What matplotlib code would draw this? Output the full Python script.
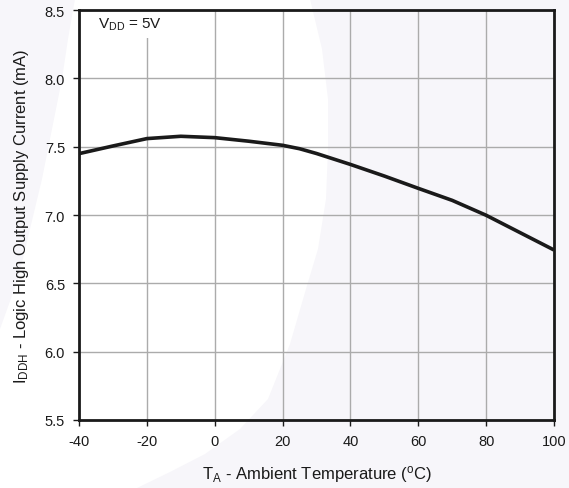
import matplotlib
matplotlib.use("Agg")
import matplotlib.pyplot as plt
from matplotlib.patches import Polygon
import numpy as np

# Data
temp_c = [-40, -30, -20, -10, 0, 10, 20, 25, 30, 40, 50, 60, 70, 80, 90, 100]
iddh_ma = [7.449, 7.505, 7.559, 7.576, 7.566, 7.54, 7.51, 7.485, 7.45, 7.37,
           7.285, 7.195, 7.107, 6.998, 6.871, 6.744]
x_ticks = [-40, -20, 0, 20, 40, 60, 80, 100]
y_ticks = [5.5, 6.0, 6.5, 7.0, 7.5, 8.0, 8.5]

plt.rcParams['font.family'] = ['Liberation Sans', 'DejaVu Sans']
plt.rcParams['mathtext.fontset'] = 'custom'
plt.rcParams['mathtext.rm'] = 'Liberation Sans'
plt.rcParams['mathtext.it'] = 'Liberation Sans'
plt.rcParams['axes.unicode_minus'] = False

fig = plt.figure(figsize=(5.69, 4.89), dpi=100)
fig.patch.set_facecolor('white')

# faint watermark shapes behind the chart (pixel coords of the figure)
W, H = 569, 489
shade = '#f7f6fa'
right_shape = [(310, 0), (322, 50), (328, 100), (328, 150), (326, 200), (318, 250),
               (306, 290), (290, 345), (268, 400), (240, 430), (205, 455),
               (170, 473), (137, 489), (569, 489), (569, 0)]
left_shape = [(0, 0), (75, 0), (68, 40), (62, 80), (52, 130), (42, 180),
               (30, 230), (18, 280), (0, 330)]
for pts in (right_shape, left_shape):
    fig.patches.append(Polygon([(x / W, 1 - y / H) for x, y in pts],
                               closed=True, transform=fig.transFigure,
                               facecolor=shade, edgecolor='none', zorder=-10))

ax = fig.add_axes([79 / W, 1 - 421 / H, (554 - 79) / W, (421 - 11) / H])
ax.patch.set_alpha(0)

ax.plot(temp_c, iddh_ma, color='#1a1a1a', lw=2.6, solid_capstyle='butt', zorder=3)

ax.set_xlim(-40, 100)
ax.set_ylim(5.5, 8.5)
ax.set_xticks(x_ticks)
ax.set_yticks(y_ticks)
ax.set_yticklabels([f"{v:.1f}" for v in y_ticks])
ax.grid(True, color='#ababab', lw=1.0)
ax.set_axisbelow(True)

for s in ax.spines.values():
    s.set_linewidth(2.0)
    s.set_color('#1a1a1a')
ax.tick_params(direction='out', length=4, width=1, colors='#1a1a1a',
               labelsize=10.5, pad=6)

ax.text(-34.3, 8.40, r'V$_{\mathregular{DD}}$ = 5V', fontsize=11, color='#1a1a1a',
        va='center', ha='left', zorder=1,
        bbox=dict(facecolor='white', edgecolor='none', pad=4.5))

ax.set_xlabel(r'T$_{\mathregular{A}}$ - Ambient Temperature ($^{\mathregular{o}}$C)',
              fontsize=12, color='#1a1a1a', labelpad=11)
ax.set_ylabel(r'I$_{\mathregular{DDH}}$ - Logic High Output Supply Current (mA)',
              fontsize=12, color='#1a1a1a', labelpad=10)

fig.savefig('out.png', dpi=100)
